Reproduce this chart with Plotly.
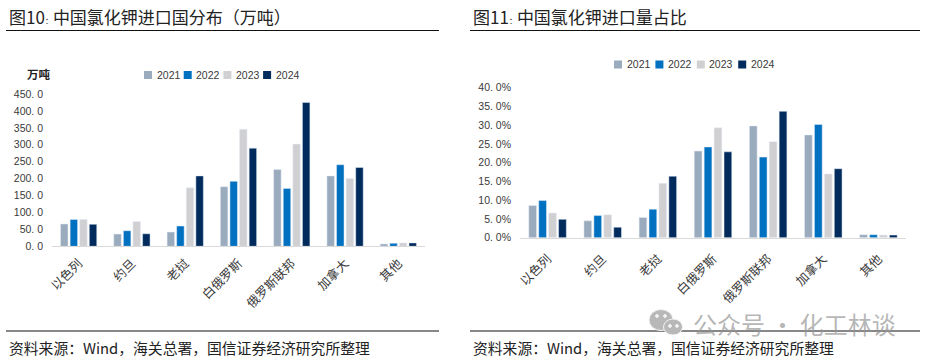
import plotly.graph_objects as go

W, H = 926, 361
categories = ["以色列", "约旦", "老挝", "白俄罗斯", "俄罗斯联邦", "加拿大", "其他"]
years = ["2021", "2022", "2023", "2024"]
colors = ["#9AABBD", "#0070C0", "#D0D0D3", "#002B5C"]

tons_2021 = [66, 36, 42, 176, 227, 208, 7]
tons_2022 = [79, 46, 60, 192, 171, 241, 9]
tons_2023 = [79, 73, 173, 346, 302, 200, 10]
tons_2024 = [65, 37, 208, 290, 425, 233, 10]

share_2021 = [8.6, 4.5, 5.4, 23.1, 29.8, 27.4, 0.8]
share_2022 = [9.9, 5.9, 7.6, 24.2, 21.5, 30.2, 0.8]
share_2023 = [6.6, 6.1, 14.5, 29.3, 25.6, 17.0, 0.7]
share_2024 = [4.9, 2.8, 16.4, 22.9, 33.7, 18.4, 0.7]

left_ticks = [0, 50, 100, 150, 200, 250, 300, 350, 400, 450]
left_labels = ["0. 0", "50. 0", "100. 0", "150. 0", "200. 0", "250. 0", "300. 0", "350. 0", "400. 0", "450. 0"]
right_ticks = [0, 5, 10, 15, 20, 25, 30, 35, 40]
right_labels = ["0. 0%", "5. 0%", "10. 0%", "15. 0%", "20. 0%", "25. 0%", "30. 0%", "35. 0%", "40. 0%"]

colon = '<span style="font-size:8px">：</span>'
title_left = f"图10{colon}中国氯化钾进口国分布（万吨）"
title_right = f"图11{colon}中国氯化钾进口量占比"
source = "资料来源：Wind，海关总署，国信证券经济研究所整理"
CJK = "Noto Sans CJK SC"
LAT = "Liberation Sans"
TXT = "#3a3a3a"


def px(x):
    return x / W


def py(y):
    return 1 - y / H


fig = go.Figure()
for i, (name, vals) in enumerate(zip(years, [tons_2021, tons_2022, tons_2023, tons_2024])):
    fig.add_bar(x=categories, y=vals, name=name, marker_color=colors[i], showlegend=False,
                xaxis="x", yaxis="y", offsetgroup=str(i))
for i, (name, vals) in enumerate(zip(years, [share_2021, share_2022, share_2023, share_2024])):
    fig.add_bar(x=categories, y=vals, name=name, marker_color=colors[i], showlegend=False,
                xaxis="x2", yaxis="y2", offsetgroup=str(i))

shapes, annos = [], []


def text(x, y, s, size, anchor="left", font=CJK, color="#222222", bold=False):
    annos.append(dict(x=px(x), y=py(y), xref="paper", yref="paper", text=f"<b>{s}</b>" if bold else s,
                      showarrow=False, xanchor=anchor, yanchor="middle",
                      font=dict(family=font, size=size, color=color)))


def rule(x0, x1, y):
    shapes.append(dict(type="line", xref="paper", yref="paper", x0=px(x0), x1=px(x1), y0=py(y), y1=py(y),
                       line=dict(color="#111111", width=1.2)))


def legend(x0, pitch, y):
    for i, name in enumerate(years):
        mx = x0 + i * pitch
        shapes.append(dict(type="rect", xref="paper", yref="paper", x0=px(mx), x1=px(mx + 8),
                           y0=py(y + 4), y1=py(y - 4), fillcolor=colors[i], line_width=0))
        text(mx + 10.5, y, name, 10.5, font=LAT, color=TXT)


def blob(cx, cy, rx, ry, fill, line="#f4f4f4"):
    shapes.append(dict(type="circle", xref="paper", yref="paper", x0=px(cx - rx), x1=px(cx + rx),
                       y0=py(cy + ry), y1=py(cy - ry), fillcolor=fill, line=dict(color=line, width=1)))


text(7, 16, title_left, 17)
text(471, 16, title_right, 17)
text(7, 347, source, 14.8)
text(471, 347, source, 14.8)
for a, b in [(6, 439), (470, 920)]:
    rule(a, b, 30.5)
    rule(a, b, 331)
text(38.5, 74, "万吨", 11.5, anchor="center", bold=True)
legend(144, 39.7, 75)
legend(614, 41.4, 64.5)

# watermark
blob(661, 320, 12, 10.5, "#b8b8b8")
blob(673, 327, 9.5, 8, "#b8b8b8")
for cx, cy in [(657, 316), (665, 316), (670, 326), (677, 326)]:
    blob(cx, cy, 1.4, 1.4, "#f4f4f4", line="#f4f4f4")
text(691, 323, "公众号 · 化工林谈", 24, color="rgba(150,150,150,0.7)")

axis_font = dict(family=LAT, size=10.5, color=TXT)
cat_font = dict(family=CJK, size=12.5, color=TXT)
layout = dict(
    width=W, height=H, margin=dict(l=0, r=0, t=0, b=0, pad=0, autoexpand=False), paper_bgcolor="white", plot_bgcolor="white",
    barmode="group", bargap=0.28, bargroupgap=0.22, showlegend=False,
    shapes=shapes, annotations=annos,
    xaxis=dict(domain=[px(52), px(425)], anchor="y", tickangle=-45, tickfont=cat_font, showgrid=False,
               linecolor="#d9d9d9", linewidth=1, ticks="", showline=True, ticklabelstandoff=4),
    yaxis=dict(domain=[py(246.3), py(94)], anchor="x", range=[0, 450], tickvals=left_ticks, ticktext=left_labels,
               tickfont=axis_font, showgrid=False, zeroline=False, ticks="", showline=False, ticklabelstandoff=8),
    xaxis2=dict(domain=[px(520), px(906)], anchor="y2", tickangle=-45, tickfont=cat_font, showgrid=False,
                linecolor="#d9d9d9", linewidth=1, ticks="", showline=True, ticklabelstandoff=8),
    yaxis2=dict(domain=[py(237.7), py(87.7)], anchor="x2", range=[0, 40], tickvals=right_ticks, ticktext=right_labels,
                tickfont=axis_font, showgrid=False, zeroline=False, ticks="", showline=False, ticklabelstandoff=8),
)
fig.update_layout(**layout)
fig.write_html("out.html", config={"displayModeBar": False},
               post_script="document.body.style.margin='0';document.documentElement.style.overflow='hidden';")
